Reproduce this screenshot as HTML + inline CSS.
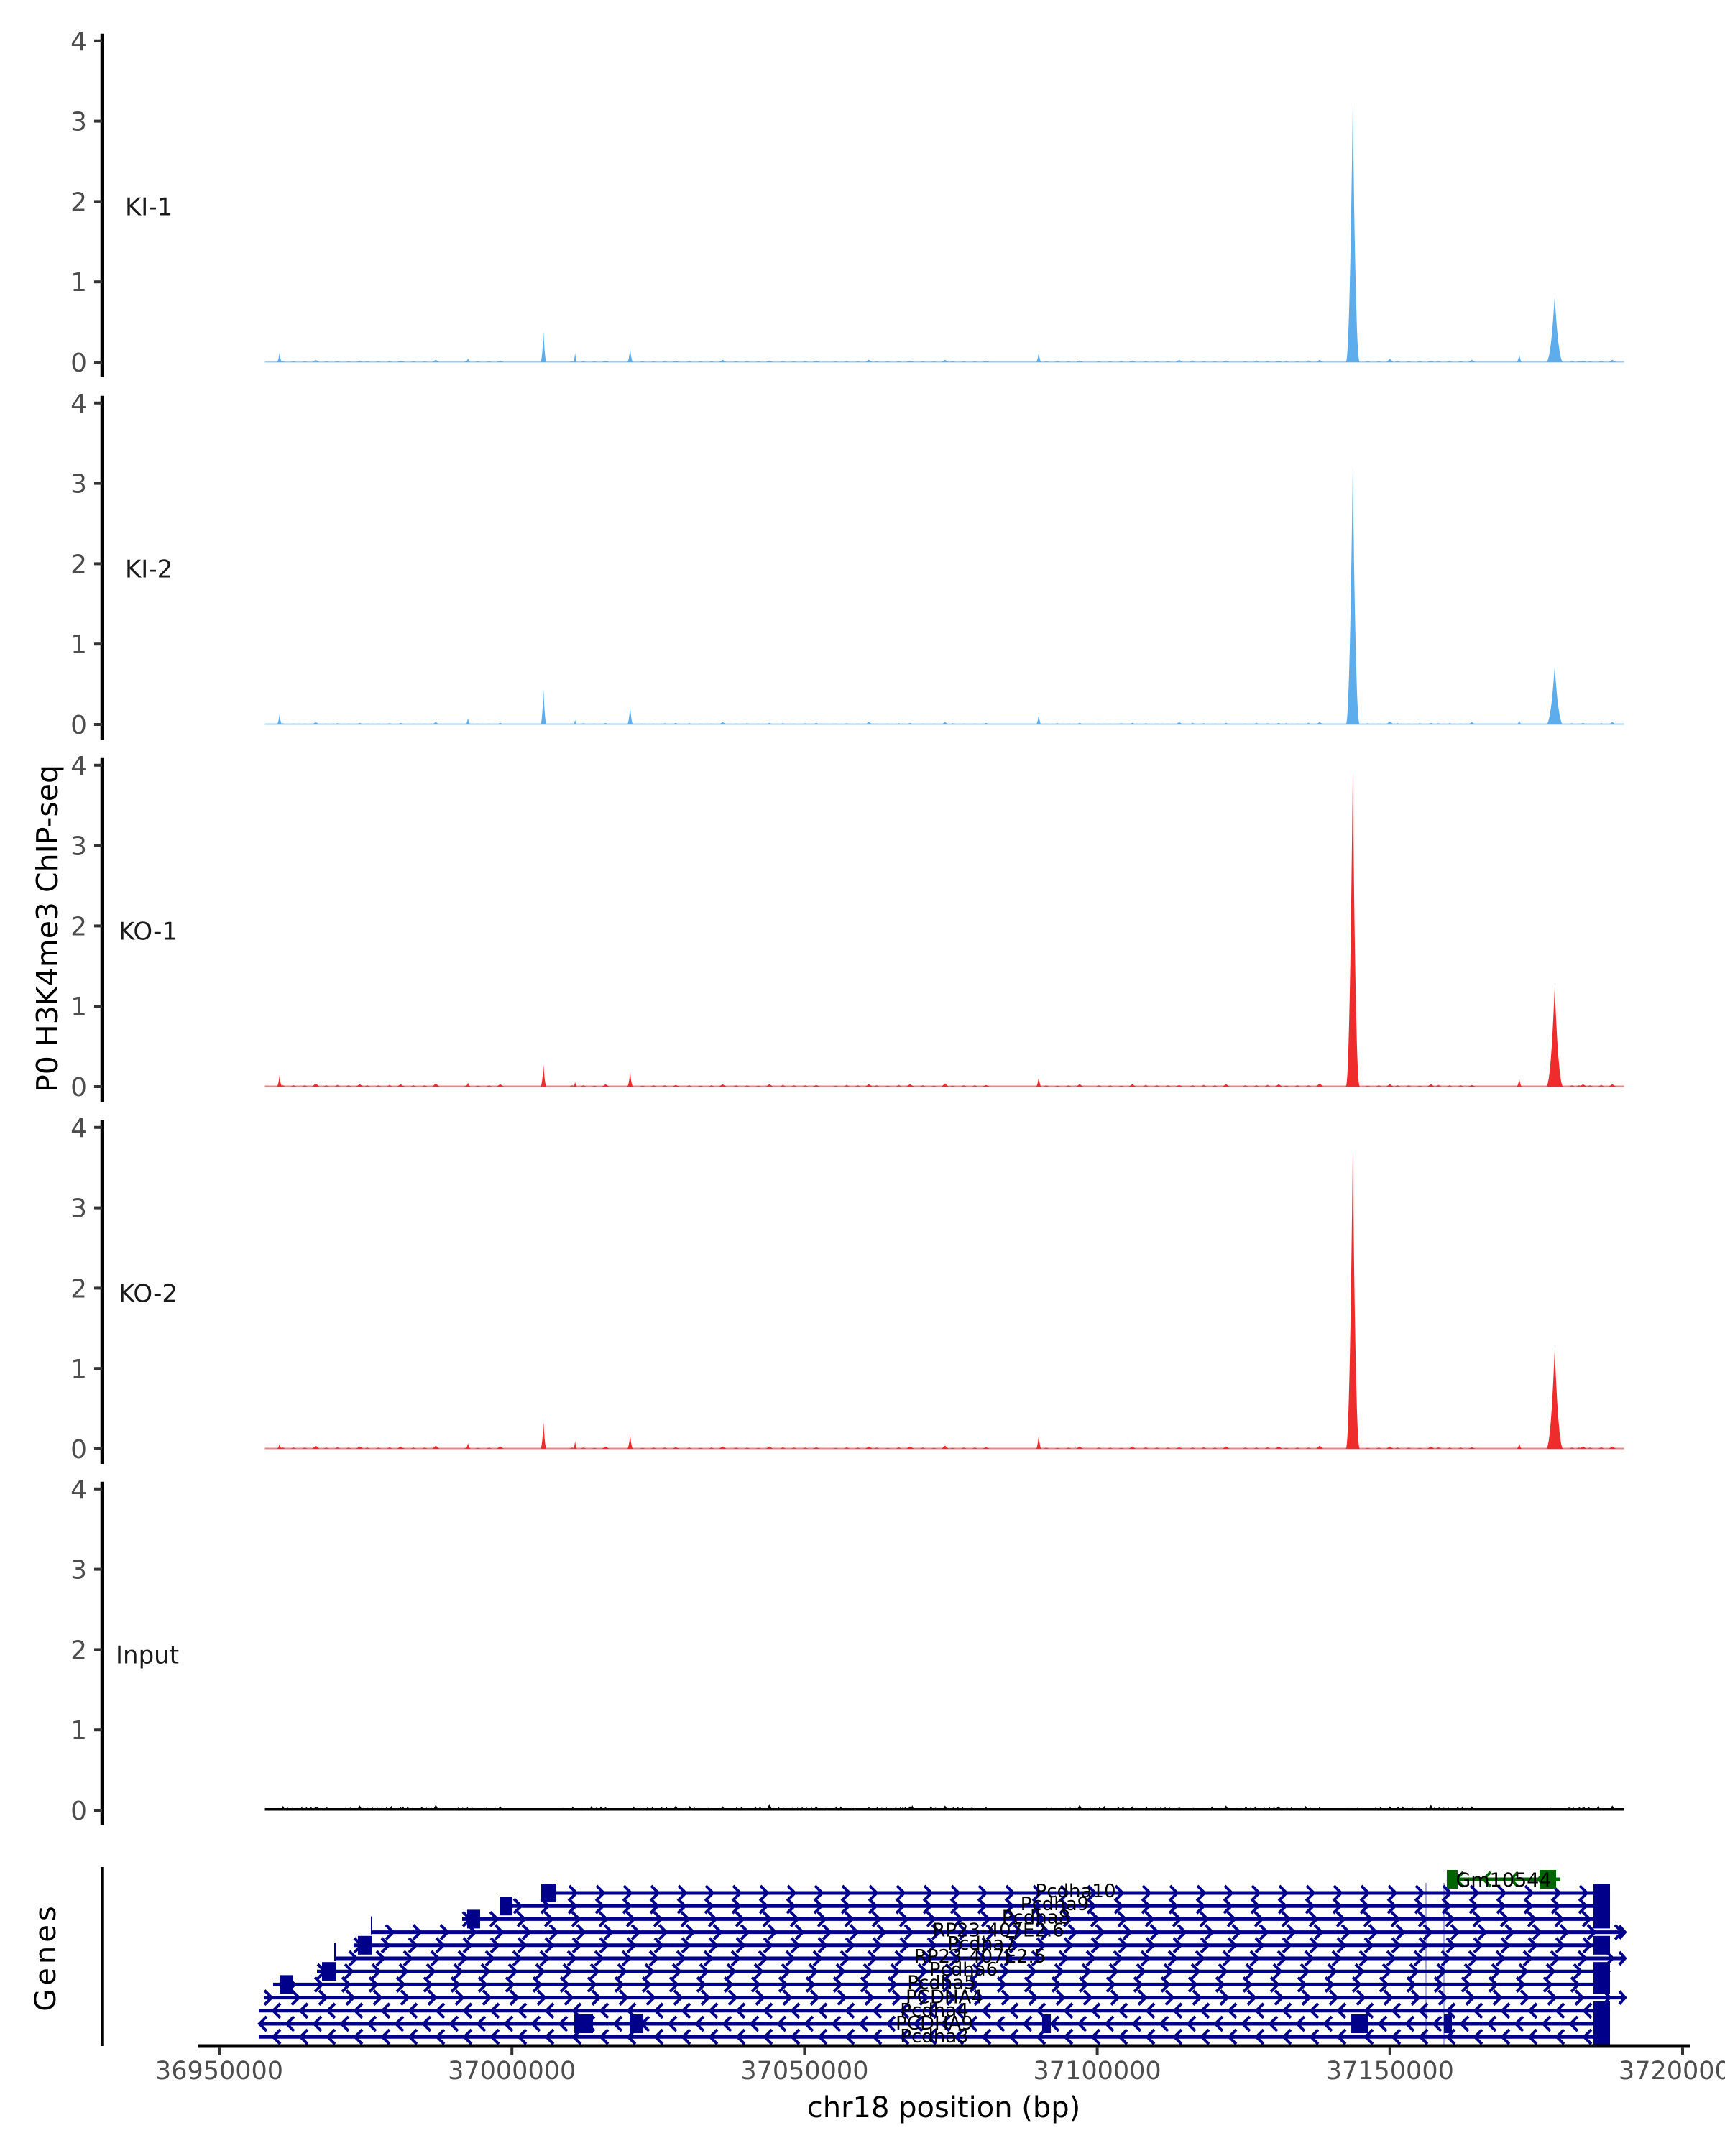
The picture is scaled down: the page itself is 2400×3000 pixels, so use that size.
<!DOCTYPE html>
<html><head><meta charset="utf-8"><style>
html,body{margin:0;padding:0;background:#fff;}
svg{display:block;font-family:"DejaVu Sans","Liberation Sans",sans-serif;}
</style></head><body>
<svg id="chart" xmlns="http://www.w3.org/2000/svg" width="2400" height="3000" viewBox="0 0 2400 3000"></svg>
<script>
// ---- data ----
const sampleNames = ["KI-1","KI-2","KO-1","KO-2","Input"];
const sampleColors = ["#5DADEC","#5DADEC","#EE2C2C","#EE2C2C","#000000"];
const yTicks = [0,1,2,3,4];
const xTicks = [36950000,37000000,37050000,37100000,37150000,37200000];
const xTickLabels = ["36950000","37000000","37050000","37100000","37150000","37200000"];
const signalStart = 36957800;
const signalEnd = 37190000;
// peak positions (bp) and widths (half-width, bp)
const peakPos = [36960300,36992500,37005400,37010800,37020200,37090000,37143650,37172100,37178150];
const peakWidth = [500,500,550,350,550,500,1200,500,1500];
const peakKI1 = [0.12,0.05,0.38,0.12,0.17,0.12,3.22,0.10,0.82];
const peakKI2 = [0.13,0.08,0.43,0.06,0.22,0.12,3.20,0.05,0.72];
const peakKO1 = [0.14,0.05,0.27,0.06,0.18,0.12,3.90,0.10,1.24];
const peakKO2 = [0.06,0.07,0.33,0.10,0.17,0.17,3.70,0.07,1.24];
const peakInput = [0,0,0,0,0,0,0,0,0];
const peakHeights = [peakKI1,peakKI2,peakKO1,peakKO2,peakInput];
// small background bumps (bp) and heights
const bumpPos = [36966500,36974000,36981000,36987000,36998000,37016000,37028000,37036000,37044000,37052000,37061000,37068000,37074000,37081000,37097000,37106000,37114000,37122000,37131000,37138000,37150000,37157000,37164000,37183000,37188000];
const bumpKI = [0.03,0.02,0.02,0.03,0.02,0.02,0.02,0.03,0.02,0.02,0.03,0.02,0.03,0.02,0.02,0.02,0.03,0.02,0.02,0.03,0.04,0.02,0.03,0.02,0.03];
const bumpKO = [0.04,0.03,0.03,0.04,0.03,0.03,0.02,0.03,0.03,0.02,0.03,0.03,0.04,0.02,0.03,0.03,0.02,0.03,0.03,0.04,0.03,0.03,0.02,0.03,0.03];
const bumpInput = [0.05,0.06,0.04,0.07,0.05,0.04,0.06,0.05,0.08,0.05,0.04,0.05,0.06,0.04,0.07,0.05,0.04,0.06,0.05,0.04,0.05,0.07,0.05,0.04,0.06];
const bumpHeights = [bumpKI,bumpKI,bumpKO,bumpKO,bumpInput];
// genes
const geneNames = ["Pcdha10","Pcdha9","Pcdha8","RP23-407E2.6","Pcdha7","RP23-407E2.5","Pcdha6","Pcdha5","PCDHA4","Pcdha4","PCDHA9","Pcdha3"];
const geneStart = [37005010,36997890,36991500,36976030,36972960,36969770,36966700,36959210,36957610,36956750,36956750,36956750];
const geneEnd = [37187600,37187600,37187600,37190180,37187600,37190180,37187600,37187600,37190180,37187600,37187600,37187600];
const geneStrand = ["+","+","+","+","+","+","+","+","+","-","-","-"];
const exonGene = [0,1,2,4,6,7,0,1,2,4,6,7,9,10,11,10,10,10,10,10];
const exonStart = [37005010,36997890,36992360,36973700,36967560,36960310,37184770,37184770,37184770,37184770,37184770,37184770,37184770,37184770,37184770,37010660,37020110,37090590,37143400,37159240];
const exonEnd = [37007590,37000100,36994570,36976150,36970010,36962650,37187600,37187600,37187600,37187600,37187600,37187600,37187600,37187600,37187600,37013850,37022450,37092070,37146340,37160590];
const gmName = "Gm10544";
const gmStart = 37159720, gmEnd = 37179130;
const gmExonStart = [37159720,37175560];
const gmExonEnd = [37161570,37178390];

// ---- scales ----
const NS="http://www.w3.org/2000/svg";
const svg=document.getElementById('chart');
function X(bp){return 305+(bp-36950000)*407.2/50000;}
const panelZero=[504,1008,1512,2016,2519];
const unit=111.8;
function Y(i,v){return panelZero[i]-v*unit;}
function mk(tag,attrs,parent){const e=document.createElementNS(NS,tag);for(const k in attrs)e.setAttribute(k,attrs[k]);(parent||svg).appendChild(e);return e;}
const labelX=[174,174,165,165,161];

// ---- signal panels ----
for(let i=0;i<5;i++){
  const g=mk('g',{});
  
  
  const col=sampleColors[i];
  const ax=mk('line',{x1:142,x2:142,y1:Y(i,4)-10,y2:Y(i,0)+21,stroke:'#000','stroke-width':4.5},g);
  
  
  yTicks.forEach(t=>{
    const tk=mk('line',{x1:131,x2:142,y1:Y(i,t),y2:Y(i,t),stroke:'#333','stroke-width':4},g);
    
    
    const tl=mk('text',{x:121,y:Y(i,t)+13,'text-anchor':'end','font-size':36,fill:'#4d4d4d'},g);
    tl.textContent=t;
    
    
  });
  const lab=mk('text',{x:labelX[i],y:Y(i,2)+19,'font-size':34,fill:'#1a1a1a'},g);
  lab.textContent=sampleNames[i];
  
  
  const bl=mk('rect',{x:X(signalStart),y:Y(i,0)-(i==4?3:1.5),width:X(signalEnd)-X(signalStart),height:i==4?3.5:2,fill:col,opacity:i==4?1:0.6},g);
  
  
  bumpPos.forEach((p,k)=>{
    const h=bumpHeights[i][k], cx=X(p), w=i==4?4:5;
    const b=mk('polygon',{points:`${cx-w},${Y(i,0)} ${cx},${Y(i,h)} ${cx+w},${Y(i,0)}`,fill:col},g);
    
    
  });
  if(i==4){
    bumpPos.forEach((p,k)=>{
      for(let s=1;s<10;s++){
        const cx=X(p-s*800), h=bumpInput[(k+s*3)%bumpInput.length]*(0.5+0.1*(s%4));
        if(cx<X(signalStart))continue;
        const b=mk('polygon',{points:`${cx-3},${Y(i,0)} ${cx},${Y(i,h)} ${cx+3},${Y(i,0)}`,fill:col},g);
        
        
      }
    });
  } else {
    bumpPos.forEach((p,k)=>{
      for(let s=1;s<4;s++){
        const cx=X(p-s*1900), h=bumpHeights[i][(k+s)%bumpPos.length]*0.6;
        if(cx<X(signalStart))continue;
        const b=mk('polygon',{points:`${cx-4},${Y(i,0)} ${cx},${Y(i,h)} ${cx+4},${Y(i,0)}`,fill:col,opacity:0.8},g);
        
        
      }
    });
  }
  peakPos.forEach((p,k)=>{
    const h=peakHeights[i][k]; if(h<=0)return;
    const w=peakWidth[k], pts=[];
    for(let s=-20;s<=20;s++){
      const d=Math.abs(s)/20; const v=h*Math.pow(1-d,2.2);
      pts.push(X(p+s*w/20).toFixed(1)+','+Y(i,v).toFixed(1));
    }
    const pk=mk('polygon',{points:pts.join(' '),fill:col},g);
    
    
  });
}

const yt=mk('text',{x:0,y:0,transform:'translate(80,1292) rotate(-90)','text-anchor':'middle','font-size':41,fill:'#000'});
yt.textContent='P0 H3K4me3 ChIP-seq';



// ---- genes panel ----
const gg=mk('g',{});


const gax=mk('line',{x1:142,x2:142,y1:2598,y2:2847,stroke:'#000','stroke-width':3.5},gg);


const gl=mk('text',{x:0,y:0,transform:'translate(77,2723) rotate(-90)','text-anchor':'middle','font-size':40,'letter-spacing':5,fill:'#000'},gg);
gl.textContent='Genes';


const blue='#00008B';
[1984,2009].forEach(x=>{
  const v=mk('line',{x1:x,x2:x,y1:2620,y2:2845,stroke:'#3333bb','stroke-width':1.2,opacity:0.7},gg);
  
  
});
function rowY(r){return 2634+r*18.2;}
geneNames.forEach((n,r)=>{
  const y=rowY(r), x1=X(geneStart[r]), x2=X(geneEnd[r]);
  const gr=mk('g',{},gg);
  
  
  mk('line',{x1:x1,x2:x2,y1:y,y2:y,stroke:blue,'stroke-width':5},gr);
  const plus=geneStrand[r]=='+';
  const off=(r%2)*19;
  for(let x=x1+6+off;x<x2-6;x+=38){
    const p=plus?`${x-5},${y-10} ${x+5},${y} ${x-5},${y+10}`:`${x+5},${y-10} ${x-5},${y} ${x+5},${y+10}`;
    mk('polyline',{points:p,fill:'none',stroke:blue,'stroke-width':4},gr);
  }
  if(x2>2250){
    mk('polyline',{points:`${x2-8},${y-9} ${x2},${y} ${x2-8},${y+9}`,fill:'none',stroke:blue,'stroke-width':4},gr);
  }
  if(r==3||r==5) mk('line',{x1:x1,x2:x1,y1:y-22,y2:y+3,stroke:blue,'stroke-width':2},gr);
});
exonGene.forEach((r,k)=>{
  const y=rowY(r);
  const e=mk('rect',{x:X(exonStart[k]),y:y-13,width:Math.max(3,X(exonEnd[k])-X(exonStart[k])),height:26,fill:blue},gg);
  
  
});
const gmg=mk('g',{},gg);


const gmY=2615, green='#006400';
mk('line',{x1:X(gmStart),x2:X(gmEnd),y1:gmY,y2:gmY,stroke:green,'stroke-width':5},gmg);
for(let x=X(gmStart)+18;x<X(gmEnd);x+=38){
  mk('polyline',{points:`${x+5},${gmY-10} ${x-5},${gmY} ${x+5},${gmY+10}`,fill:'none',stroke:green,'stroke-width':4},gmg);
}
gmExonStart.forEach((s,k)=>{
  mk('rect',{x:X(s),y:gmY-13,width:X(gmExonEnd[k])-X(s),height:26,fill:green},gmg);
});
const gmt=mk('text',{x:(X(gmStart)+X(gmEnd))/2,y:gmY+10,'text-anchor':'middle','font-size':27,fill:'#000'},gmg);
gmt.textContent=gmName;


geneNames.forEach((n,r)=>{
  const t=mk('text',{x:(X(geneStart[r])+X(geneEnd[r]))/2,y:rowY(r)+6+(r>=8?2:0),'text-anchor':'middle','font-size':26,fill:'#000'},gg);
  t.textContent=n;
  
  
});

// ---- x axis ----
const xa=mk('line',{x1:275,x2:2352,y1:2847,y2:2847,stroke:'#000','stroke-width':5});


xTicks.forEach((t,k)=>{
  const tk=mk('line',{x1:X(t),x2:X(t),y1:2849,y2:2860,stroke:'#333','stroke-width':4});
  
  
  const tl=mk('text',{x:X(t),y:2893,'text-anchor':'middle','font-size':35,fill:'#4d4d4d'});
  tl.textContent=xTickLabels[k];
  
  
});
const xt=mk('text',{x:1313,y:2946,'text-anchor':'middle','font-size':40,fill:'#000'});
xt.textContent='chr18 position (bp)';


</script>
</body></html>
